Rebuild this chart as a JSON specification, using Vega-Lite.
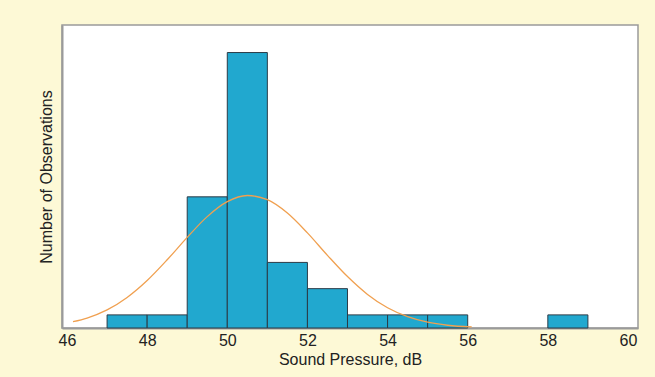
{
  "$schema": "https://vega.github.io/schema/vega-lite/v6.json",
  "width": 576,
  "height": 303,
  "autosize": {"type": "none"},
  "padding": {"left": 62, "top": 25, "right": 17, "bottom": 49},
  "background": "#fdf9d6",
  "config": {
    "view": {"stroke": "#9a9a9a", "strokeWidth": 1.5, "fill": "#ffffff"},
    "font": "Liberation Sans",
    "axis": {"grid": false, "labelFont": "Liberation Sans", "titleFont": "Liberation Sans", "labelColor": "#222222", "titleColor": "#222222", "labelFontSize": 16, "titleFontSize": 16, "titleFontWeight": "normal"}
  },
  "datasets": {
    "bins": [
      {"start": 47, "end": 48, "count": 1},
      {"start": 48, "end": 49, "count": 1},
      {"start": 49, "end": 50, "count": 10},
      {"start": 50, "end": 51, "count": 21},
      {"start": 51, "end": 52, "count": 5},
      {"start": 52, "end": 53, "count": 3},
      {"start": 53, "end": 54, "count": 1},
      {"start": 54, "end": 55, "count": 1},
      {"start": 55, "end": 56, "count": 1},
      {"start": 58, "end": 59, "count": 1}
    ],
    "curve": [
      {"x": 46.15, "y": 0.48},
      {"x": 46.5, "y": 0.76},
      {"x": 47, "y": 1.38},
      {"x": 47.5, "y": 2.33},
      {"x": 48, "y": 3.62},
      {"x": 48.5, "y": 5.2},
      {"x": 49, "y": 6.91},
      {"x": 49.5, "y": 8.49},
      {"x": 50, "y": 9.63},
      {"x": 50.5, "y": 10.1},
      {"x": 51, "y": 9.78},
      {"x": 51.5, "y": 8.76},
      {"x": 52, "y": 7.25},
      {"x": 52.5, "y": 5.54},
      {"x": 53, "y": 3.92},
      {"x": 53.5, "y": 2.56},
      {"x": 54, "y": 1.54},
      {"x": 54.5, "y": 0.86},
      {"x": 55, "y": 0.44},
      {"x": 55.5, "y": 0.21},
      {"x": 56.1, "y": 0.08}
    ]
  },
  "layer": [
    {
      "data": {"name": "bins"},
      "mark": {"type": "rect", "fill": "#21a8cf", "stroke": "#2b3b47", "strokeWidth": 1},
      "encoding": {
        "x": {"field": "start", "type": "quantitative", "scale": {"domain": [45.875, 60.25], "nice": false, "zero": false},
          "axis": {"values": [46, 48, 50, 52, 54, 56, 58, 60], "title": "Sound Pressure, dB", "ticks": false, "labelFlush": false, "domain": true, "domainColor": "#9a9a9a", "domainWidth": 2, "labelPadding": 4, "titlePadding": 3}},
        "x2": {"field": "end"},
        "y": {"field": "count", "type": "quantitative", "scale": {"domain": [0, 23.1], "nice": false},
          "axis": {"labels": false, "ticks": false, "domain": true, "domainColor": "#9a9a9a", "domainWidth": 2, "title": "Number of Observations", "titlePadding": 8}},
        "y2": {"datum": 0}
      }
    },
    {
      "data": {"name": "curve"},
      "mark": {"type": "line", "color": "#f0a050", "strokeWidth": 1.3, "interpolate": "monotone"},
      "encoding": {
        "x": {"field": "x", "type": "quantitative"},
        "y": {"field": "y", "type": "quantitative"}
      }
    }
  ]
}
